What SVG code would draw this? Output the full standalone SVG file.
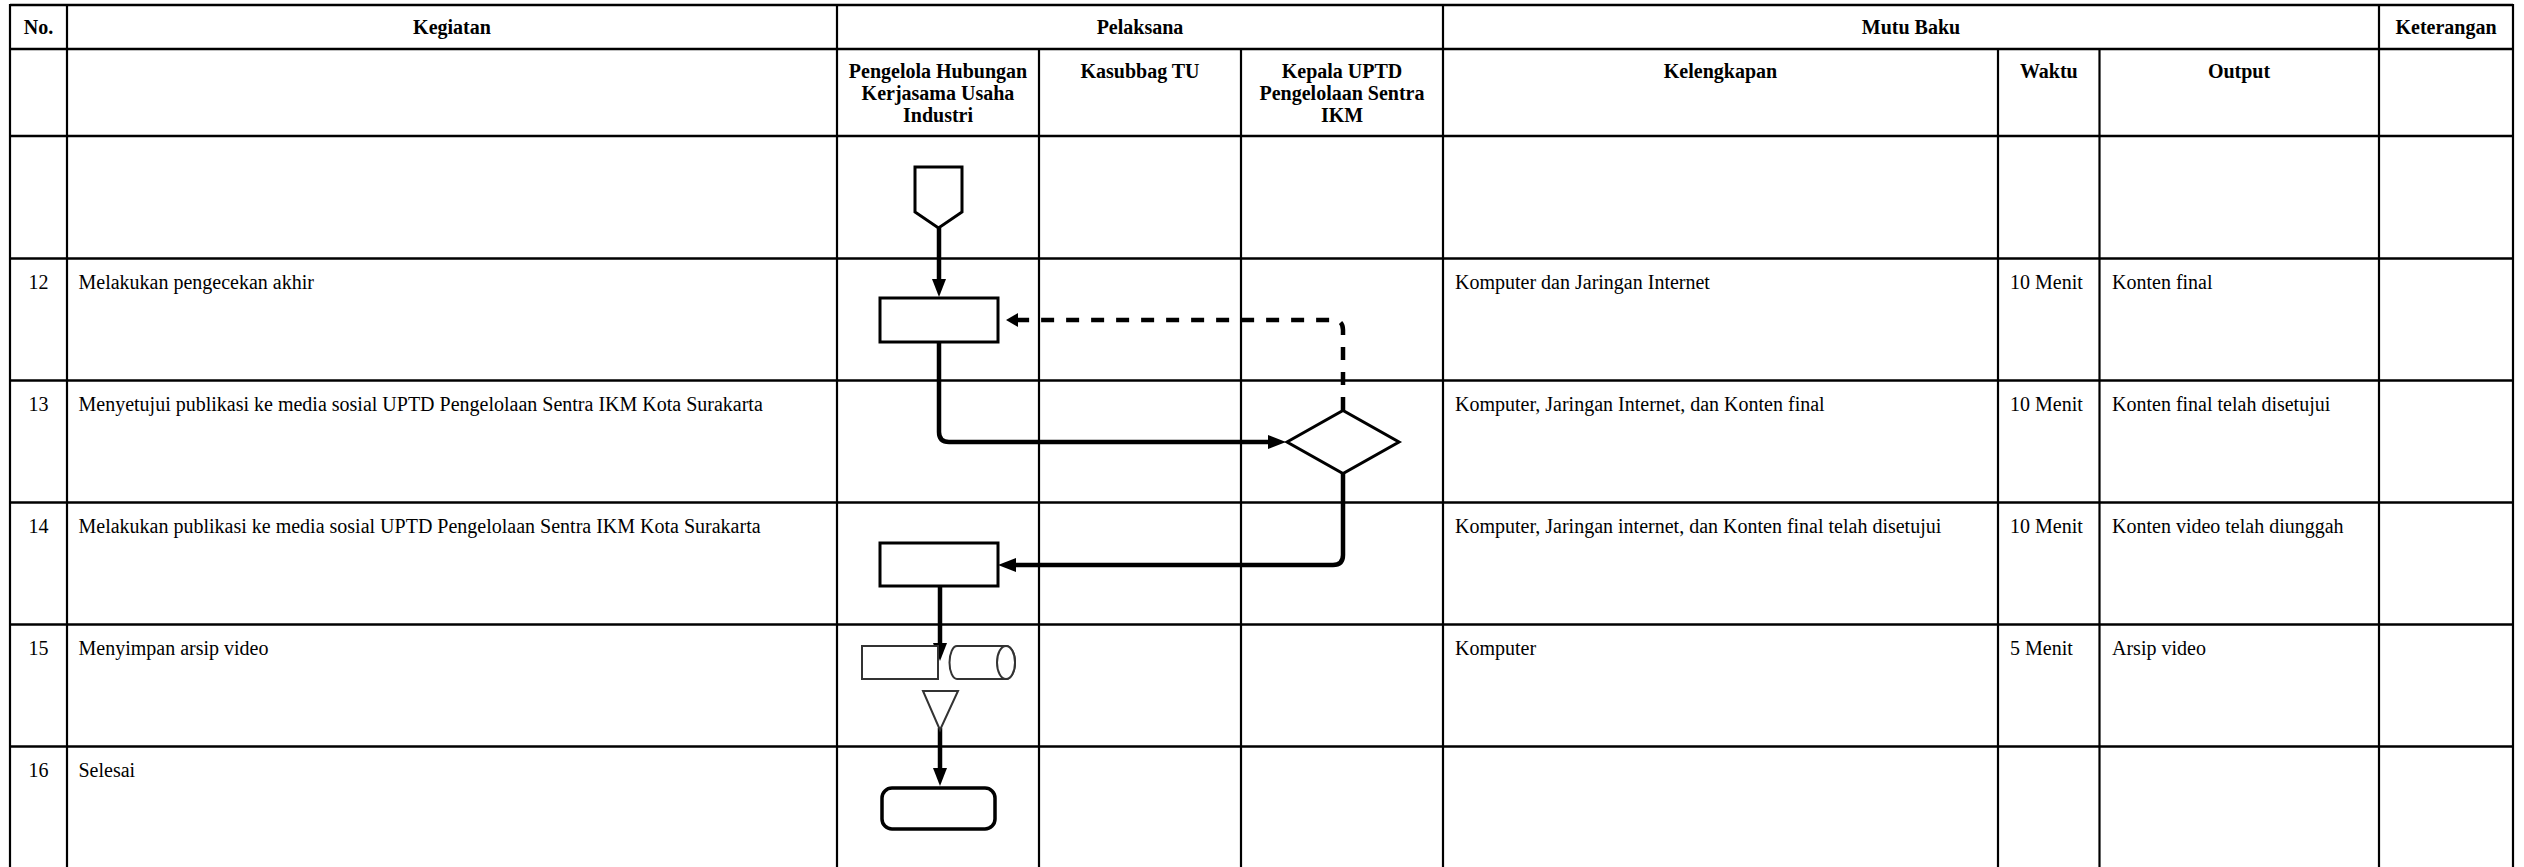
<svg xmlns="http://www.w3.org/2000/svg" width="2524" height="867" viewBox="0 0 2524 867">
<defs>
<style>
.grid{stroke:#000;stroke-width:2.2;fill:none}
.hgrid{stroke:#000;stroke-width:2.5;fill:none}
.hd{font-family:"Liberation Serif","Times New Roman",serif;font-size:20px;font-weight:bold;fill:#000;text-anchor:middle}
.tx{font-family:"Liberation Serif","Times New Roman",serif;font-size:20px;fill:#000}
.num{text-anchor:middle}
.shape{fill:#fff;stroke:#000;stroke-width:3}
.thin{fill:#fff;stroke:#333;stroke-width:2}
.conn{fill:none;stroke:#000;stroke-width:4.5}
.dash{fill:none;stroke:#000;stroke-width:4.5;stroke-dasharray:13 12}
</style>
<marker id="arr" markerUnits="userSpaceOnUse" markerWidth="20" markerHeight="16" refX="0" refY="7" orient="auto">
<path d="M0,0 L18,7 L0,14 Z" fill="#000"/>
</marker>
<marker id="arrs" markerUnits="userSpaceOnUse" markerWidth="14" markerHeight="16" refX="0" refY="7" orient="auto">
<path d="M0,0 L12,7 L0,14 Z" fill="#000"/>
</marker>
</defs>
<rect width="2524" height="867" fill="#fff"/>
<g id="table">
<line class="hgrid" x1="10" y1="5" x2="2513" y2="5"/>
<line class="hgrid" x1="10" y1="49" x2="2513" y2="49"/>
<line class="hgrid" x1="10" y1="136" x2="2513" y2="136"/>
<line class="hgrid" x1="10" y1="258.5" x2="2513" y2="258.5"/>
<line class="hgrid" x1="10" y1="380.5" x2="2513" y2="380.5"/>
<line class="hgrid" x1="10" y1="502.5" x2="2513" y2="502.5"/>
<line class="hgrid" x1="10" y1="624.5" x2="2513" y2="624.5"/>
<line class="hgrid" x1="10" y1="746.5" x2="2513" y2="746.5"/>
<line class="grid" x1="10" y1="4" x2="10" y2="867"/>
<line class="grid" x1="67" y1="4" x2="67" y2="867"/>
<line class="grid" x1="837" y1="4" x2="837" y2="867"/>
<line class="grid" x1="1039" y1="49" x2="1039" y2="867"/>
<line class="grid" x1="1241" y1="49" x2="1241" y2="867"/>
<line class="grid" x1="1443" y1="4" x2="1443" y2="867"/>
<line class="grid" x1="1998" y1="49" x2="1998" y2="867"/>
<line class="grid" x1="2099.5" y1="49" x2="2099.5" y2="867"/>
<line class="grid" x1="2379" y1="4" x2="2379" y2="867"/>
<line class="grid" x1="2513" y1="4" x2="2513" y2="867"/>
</g>
<g id="headers">
<text class="hd" x="38.5" y="33.5">No.</text>
<text class="hd" x="452" y="33.5">Kegiatan</text>
<text class="hd" x="1140" y="33.5">Pelaksana</text>
<text class="hd" x="1911" y="33.5">Mutu Baku</text>
<text class="hd" x="2446" y="33.5">Keterangan</text>
<text class="hd" x="938" y="77.5">Pengelola Hubungan</text>
<text class="hd" x="938" y="99.5">Kerjasama Usaha</text>
<text class="hd" x="938" y="121.5">Industri</text>
<text class="hd" x="1140" y="77.5">Kasubbag TU</text>
<text class="hd" x="1342" y="77.5">Kepala UPTD</text>
<text class="hd" x="1342" y="99.5">Pengelolaan Sentra</text>
<text class="hd" x="1342" y="121.5">IKM</text>
<text class="hd" x="1720.5" y="77.5">Kelengkapan</text>
<text class="hd" x="2048.8" y="77.5">Waktu</text>
<text class="hd" x="2239" y="77.5">Output</text>
</g>
<g id="row12">
<text class="tx num" x="38.5" y="288.5">12</text>
<text class="tx" x="78.5" y="288.5">Melakukan pengecekan akhir</text>
<text class="tx" x="1455" y="288.5">Komputer dan Jaringan Internet</text>
<text class="tx" x="2010" y="288.5">10 Menit</text>
<text class="tx" x="2112" y="288.5">Konten final</text>
</g>
<g id="row13">
<text class="tx num" x="38.5" y="410.5">13</text>
<text class="tx" x="78.5" y="410.5">Menyetujui publikasi ke media sosial UPTD Pengelolaan Sentra IKM Kota Surakarta</text>
<text class="tx" x="1455" y="410.5">Komputer, Jaringan Internet, dan Konten final</text>
<text class="tx" x="2010" y="410.5">10 Menit</text>
<text class="tx" x="2112" y="410.5">Konten final telah disetujui</text>
</g>
<g id="row14">
<text class="tx num" x="38.5" y="532.5">14</text>
<text class="tx" x="78.5" y="532.5">Melakukan publikasi ke media sosial UPTD Pengelolaan Sentra IKM Kota Surakarta</text>
<text class="tx" x="1455" y="532.5">Komputer, Jaringan internet, dan Konten final telah disetujui</text>
<text class="tx" x="2010" y="532.5">10 Menit</text>
<text class="tx" x="2112" y="532.5">Konten video telah diunggah</text>
</g>
<g id="row15">
<text class="tx num" x="38.5" y="654.5">15</text>
<text class="tx" x="78.5" y="654.5">Menyimpan arsip video</text>
<text class="tx" x="1455" y="654.5">Komputer</text>
<text class="tx" x="2010" y="654.5">5 Menit</text>
<text class="tx" x="2112" y="654.5">Arsip video</text>
</g>
<g id="row16">
<text class="tx num" x="38.5" y="776.5">16</text>
<text class="tx" x="78.5" y="776.5">Selesai</text>
</g>
<g id="connectors">
<path class="conn" d="M939,228 L939,279" marker-end="url(#arr)"/>
<path class="conn" d="M939,342 L939,432 Q939,442 949,442 L1268,442" marker-end="url(#arr)"/>
<path class="conn" d="M1343,473.5 L1343,555 Q1343,565 1333,565 L1016,565" marker-end="url(#arr)"/>
<path class="dash" d="M1343,410 L1343,330 Q1343,320 1333,320 L1018,320" marker-end="url(#arrs)"/>
<path class="conn" d="M940,586 L940,643" marker-end="url(#arr)"/>
<path class="conn" d="M940,728 L940,768" marker-end="url(#arr)"/>
</g>
<g id="node-offpage">
<polygon class="shape" points="915,167 962,167 962,212 938.5,228 915,212"/>
</g>
<g id="node-check">
<rect class="shape" x="880" y="298" width="118" height="44"/>
</g>
<g id="node-decision">
<polygon class="shape" points="1287,442 1343,410.5 1399,442 1343,473.5"/>
</g>
<g id="node-publish">
<rect class="shape" x="880" y="543" width="118" height="43"/>
</g>
<g id="node-archive">
<rect class="thin" x="862" y="646" width="76" height="33"/>
<path class="thin" d="M957,646 L1006,646 A9,16.5 0 0 1 1006,679 L957,679 A7.5,16.5 0 0 1 957,646 Z"/>
<ellipse class="thin" cx="1006" cy="662.5" rx="9" ry="16.5"/>
<polygon class="thin" points="923,691 958,691 940,730"/>
</g>
<g id="node-end">
<rect class="shape" style="stroke-width:3.5" x="882" y="788" width="113" height="41" rx="10"/>
</g>
</svg>
